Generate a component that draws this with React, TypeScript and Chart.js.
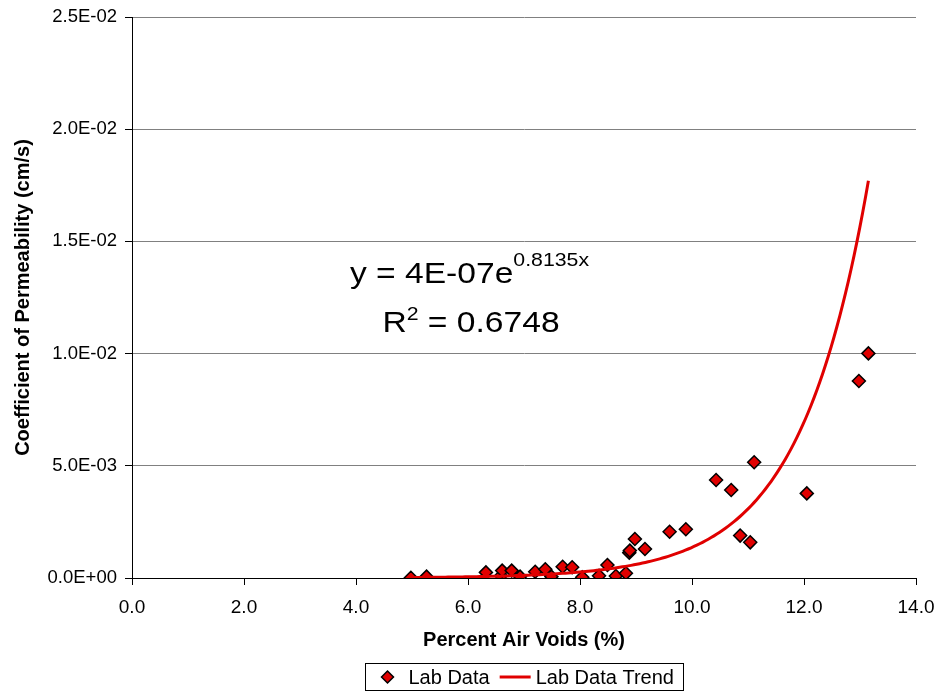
import React, { useEffect, useRef } from 'react';
import { Chart, registerables } from 'chart.js';

Chart.register(...registerables);

// ---- data ----
const AIR_VOIDS = [
  4.98, 5.26, 6.32, 6.59, 6.61, 6.78, 6.93, 7.2, 7.38, 7.49, 7.69, 7.86, 8.04, 8.34, 8.49, 8.64,
  8.82, 8.88, 8.89, 8.98, 9.16, 9.6, 9.89, 10.43, 10.7, 10.86, 11.04, 11.11, 12.05, 12.98, 13.15,
];
const PERMEABILITY = [
  0.00001, 0.00006, 0.00025, 0.0001, 0.00033, 0.00033, 0.00006, 0.00028, 0.00039, 0.00006, 0.0005,
  0.00048, 0.00003, 0.0001, 0.00058, 0.00009, 0.00021, 0.00113, 0.00122, 0.00174, 0.00129, 0.00206,
  0.00217, 0.00437, 0.00392, 0.00189, 0.00159, 0.00516, 0.00377, 0.00878, 0.01001,
];
// Trend line as printed on the chart: y = 4E-07 e^(0.8135x)
const TREND_A = 4e-7;
const TREND_B = 0.8135;
const TREND_SAMPLES = 160;
const EQ_MAIN = 'y = 4E-07e';
const EQ_EXP = '0.8135x';
const R2_LEFT = 'R';
const R2_SUP = '2';
const R2_RIGHT = ' = 0.6748';

const X_TICKS = [0, 2, 4, 6, 8, 10, 12, 14];
const Y_TICKS = [0, 0.005, 0.01, 0.015, 0.02, 0.025];
const X_TITLE = 'Percent Air Voids (%)';
const Y_TITLE = 'Coefficient of Permeability (cm/s)';
const SERIES_POINTS = 'Lab Data';
const SERIES_TREND = 'Lab Data Trend';

const FONT = '"Liberation Sans", Arial, Helvetica, sans-serif';
const RED = '#E00000';

function sci(v: number): string {
  if (Math.abs(v) < 1e-12) return '0.0E+00';
  const [m, e] = Number(v).toExponential(1).split('e');
  const n = parseInt(e, 10);
  return m + 'E' + (n < 0 ? '-' : '+') + String(Math.abs(n)).padStart(2, '0');
}

function trendData() {
  const x0 = Math.min(...AIR_VOIDS);
  const x1 = Math.max(...AIR_VOIDS);
  const pts: { x: number; y: number }[] = [];
  for (let i = 0; i <= TREND_SAMPLES; i++) {
    const x = x0 + ((x1 - x0) * i) / TREND_SAMPLES;
    pts.push({ x, y: TREND_A * Math.exp(TREND_B * x) });
  }
  return pts;
}

// draws a sequence of [text, fontSize, baselineShift] parts, slightly stretched, centred on cx
function drawStretched(ctx: any, parts: [string, number, number][], cx: number, baseline: number, sx: number) {
  let total = 0;
  const widths = parts.map(([t, size]) => {
    ctx.font = `${size}px ${FONT}`;
    const w = ctx.measureText(t).width;
    total += w;
    return w;
  });
  ctx.save();
  ctx.translate(cx, baseline);
  ctx.scale(sx, 1);
  let x = -total / 2;
  parts.forEach(([t, size, shift], i) => {
    ctx.font = `${size}px ${FONT}`;
    ctx.fillText(t, x, -shift);
    x += widths[i];
  });
  ctx.restore();
}

const overlayPlugin = {
  id: 'overlay',
  afterDraw(chart: any) {
    const { ctx, chartArea } = chart;
    const ds = chart.data.datasets;
    ctx.save();
    // trend equation and R²
    ctx.fillStyle = '#000';
    ctx.textBaseline = 'alphabetic';
    ctx.textAlign = 'left';
    drawStretched(ctx, [[EQ_MAIN, 30, 0], [EQ_EXP, 19, 17]], 469.5, 283, 1.12);
    drawStretched(ctx, [[R2_LEFT, 30, 0], [R2_SUP, 19, 12], [R2_RIGHT, 30, 0]], 471, 332, 1.12);

    // legend with a border
    ctx.font = `20px ${FONT}`;
    const w1 = ctx.measureText(ds[0].label).width;
    const w2 = ctx.measureText(ds[1].label).width;
    const W = Math.round(99 + w1 + w2);
    const cx = (chartArea.left + chartArea.right) / 2;
    const left = Math.round(cx - W / 2) + 0.5;
    const top = 663.5;
    const H = 27;
    const midY = top + H / 2;
    ctx.fillStyle = '#fff';
    ctx.fillRect(left, top, W, H);
    ctx.strokeStyle = '#000';
    ctx.lineWidth = 1;
    ctx.strokeRect(left, top, W, H);
    const dx = left + 22;
    const r = 6;
    ctx.beginPath();
    ctx.moveTo(dx - r, midY);
    ctx.lineTo(dx, midY - r);
    ctx.lineTo(dx + r, midY);
    ctx.lineTo(dx, midY + r);
    ctx.closePath();
    ctx.fillStyle = ds[0].backgroundColor;
    ctx.fill();
    ctx.lineWidth = 1.5;
    ctx.strokeStyle = ds[0].borderColor;
    ctx.stroke();
    ctx.fillStyle = '#000';
    ctx.textBaseline = 'middle';
    ctx.textAlign = 'left';
    const t1 = left + 43;
    ctx.fillText(ds[0].label, t1, midY + 1);
    const l0 = t1 + w1 + 10;
    ctx.beginPath();
    ctx.moveTo(l0, midY);
    ctx.lineTo(l0 + 31, midY);
    ctx.strokeStyle = ds[1].borderColor;
    ctx.lineWidth = 3;
    ctx.stroke();
    ctx.fillText(ds[1].label, l0 + 36, midY + 1);
    ctx.restore();
  },
};

export default function App() {
  const ref = useRef<HTMLCanvasElement | null>(null);
  useEffect(() => {
    if (!ref.current) return;
    const chart = new Chart(ref.current, {
      type: 'scatter',
      data: {
        datasets: [
          {
            label: SERIES_POINTS,
            data: AIR_VOIDS.map((x, i) => ({ x, y: PERMEABILITY[i] })),
            pointStyle: 'rectRot',
            pointRadius: 6.5,
            pointBackgroundColor: RED,
            pointBorderColor: '#000',
            pointBorderWidth: 1.5,
            backgroundColor: RED,
            borderColor: '#000',
            showLine: false,
            order: 2,
          },
          {
            label: SERIES_TREND,
            data: trendData(),
            showLine: true,
            pointRadius: 0,
            borderColor: RED,
            backgroundColor: RED,
            borderWidth: 3,
            tension: 0,
            order: 1,
          },
        ],
      },
      options: {
        animation: false,
        responsive: true,
        maintainAspectRatio: false,
        layout: { padding: { left: 0, top: 17, right: 23, bottom: 0 } },
        plugins: {
          legend: { display: false },
          tooltip: { enabled: false },
        },
        scales: {
          x: {
            type: 'linear',
            min: 0,
            max: 14,
            afterBuildTicks: (s: any) => {
              s.ticks = X_TICKS.map((v) => ({ value: v }));
            },
            afterFit: (s: any) => {
              s.height = 114;
              s.paddingLeft = 0;
              s.paddingRight = 0;
            },
            ticks: {
              color: '#000',
              font: { family: FONT, size: 19 },
              padding: 11,
              maxRotation: 0,
              callback: (v: any) => Number(v).toFixed(1),
            },
            grid: {
              drawOnChartArea: false,
              tickLength: 7,
              tickColor: '#000',
              color: '#000',
            },
            border: { color: '#000', width: 1 },
            title: {
              display: true,
              text: X_TITLE,
              color: '#000',
              font: { family: FONT, size: 20, weight: 'bold' },
              padding: { top: 0, bottom: 40 },
            },
          },
          y: {
            type: 'linear',
            min: 0,
            max: 0.025,
            afterBuildTicks: (s: any) => {
              s.ticks = Y_TICKS.map((v) => ({ value: v }));
            },
            afterFit: (s: any) => {
              s.width = 132;
              s.paddingTop = 0;
              s.paddingBottom = 0;
            },
            ticks: {
              color: '#000',
              font: { family: FONT, size: 18.5 },
              padding: 8,
              callback: (v: any) => sci(Number(v)),
            },
            grid: {
              color: '#808080',
              tickLength: 7,
              tickColor: '#000',
              lineWidth: 1,
            },
            border: { color: '#000', width: 1 },
            title: {
              display: true,
              text: Y_TITLE,
              color: '#000',
              font: { family: FONT, size: 20, weight: 'bold' },
              padding: { top: 11, bottom: 0 },
            },
          },
        },
      },
      plugins: [overlayPlugin],
    });
    return () => chart.destroy();
  }, []);
  return (
    <div style={{ position: 'fixed', left: 0, top: 0, width: 939, height: 692, background: '#fff' }}>
      <canvas ref={ref} />
    </div>
  );
}
